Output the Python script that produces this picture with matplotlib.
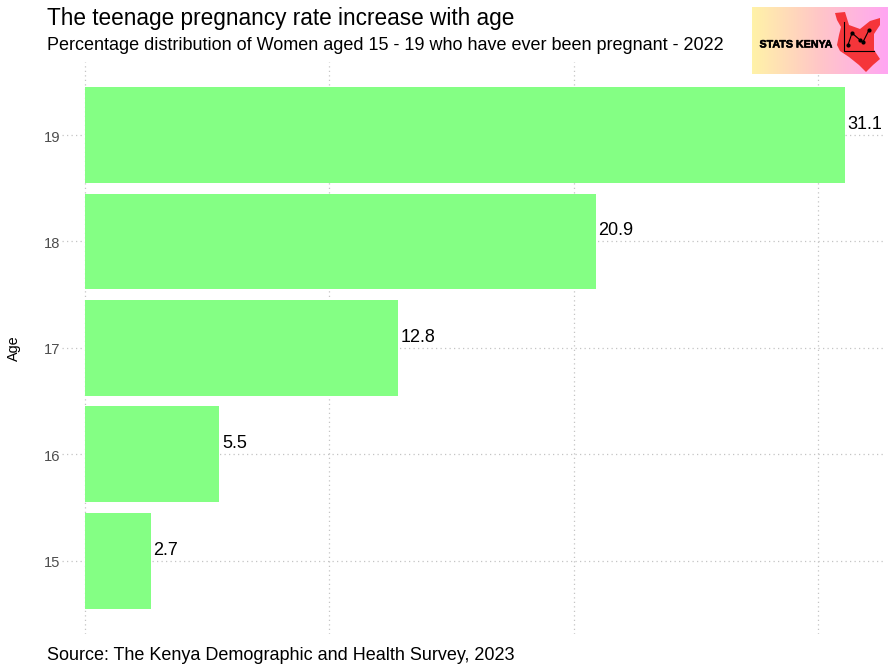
import numpy as np
import matplotlib
matplotlib.use("Agg")
import matplotlib.pyplot as plt
import matplotlib.patheffects as pe
from matplotlib.colors import LinearSegmentedColormap
from matplotlib.patches import Polygon

ages = [15, 16, 17, 18, 19]
rates = [2.7, 5.5, 12.8, 20.9, 31.1]
xticks = [0, 10, 20, 30]
title = "The teenage pregnancy rate increase with age"
subtitle = "Percentage distribution of Women aged 15 - 19 who have ever been pregnant - 2022"
source = "Source: The Kenya Demographic and Health Survey, 2023"

plt.rcParams['font.family'] = ['Liberation Sans', 'DejaVu Sans']
W, H = 890, 670
fig = plt.figure(figsize=(W/100, H/100), dpi=100, facecolor='white')

def px_axes(l, t, r, b, **kw):
    return fig.add_axes([l/W, 1-b/H, (r-l)/W, (b-t)/H], **kw)

L, R, T, B = 62, 885, 62, 634
ax = px_axes(L, T, R, B)
sx = 24.44
sy = 106.45
ax.set_xlim((L-85)/sx, (R-85)/sx)
ax.set_ylim(19-(B-135)/sy, 19+(135-T)/sy)
ax.barh(ages, rates, height=0.9, color='#84ff84', zorder=2)
for a, v in zip(ages, rates):
    ax.annotate(f"{v}", (v, a), xytext=(1.8, 7.7), textcoords='offset points',
                fontsize=13, color='black', va='center', ha='left', zorder=3)
ax.set_xticks(xticks)
ax.set_xticklabels([])
ax.set_yticks(ages)
ax.tick_params(length=0, labelsize=10.6, labelcolor='#4d4d4d', pad=1.5)
for lab in ax.get_yticklabels():
    lab.set_transform(lab.get_transform() + matplotlib.transforms.ScaledTranslation(0, -1/100, fig.dpi_scale_trans))
ax.grid(True, color='#c4c4c4', linestyle=(0, (1, 2.6)), linewidth=0.9, zorder=0)
ax.set_axisbelow(True)
for s in ax.spines.values():
    s.set_visible(False)

fig.text(14/W, 1-348/H, "Age", rotation=90, fontsize=10.4, color='black', ha='center', va='center')
fig.text(47/W, 1-18.5/H, title, fontsize=16.3, color='black', ha='left', va='center')
fig.text(47/W, 1-46/H, subtitle, fontsize=12.95, color='black', ha='left', va='center')
fig.text(47/W, 1-656/H, source, fontsize=13, color='black', ha='left', va='center')

# logo
logo = px_axes(752, 7, 888, 74)
logo.set_xlim(0, 136); logo.set_ylim(67, 0); logo.axis('off')
cmap = LinearSegmentedColormap.from_list('logo', ['#fff2a8', '#ffc6c8', '#ffa6f2'])
logo.imshow(np.linspace(0, 1, 136).reshape(1, -1), cmap=cmap, extent=(0, 136, 67, 0), aspect='auto')
kenya = [(83,6),(93,5),(97,18),(108,22),(118,14),(128,11),(128,18),(122,27),(122,43),(128,52),
         (121,58),(114,65),(107,58),(97,50),(88,44),(85,38),(87,28),(89,20),(85,13)]
logo.add_patch(Polygon(kenya, closed=True, facecolor='#f5353a', edgecolor='none', zorder=2))
logo.plot([92, 92, 122], [15, 44, 44], color='black', lw=0.8, zorder=3)
logo.plot([96, 100, 108, 111, 117], [38, 26, 33, 35, 23], color='black', lw=0.8, marker='o', ms=2, zorder=3)
logo.text(7.5, 37.5, "STATS KENYA", fontsize=7.7, fontweight='bold', color='black', ha='left', va='center', zorder=3,
          path_effects=[pe.withStroke(linewidth=0.4, foreground='black')])

fig.savefig("out.png", dpi=100)
